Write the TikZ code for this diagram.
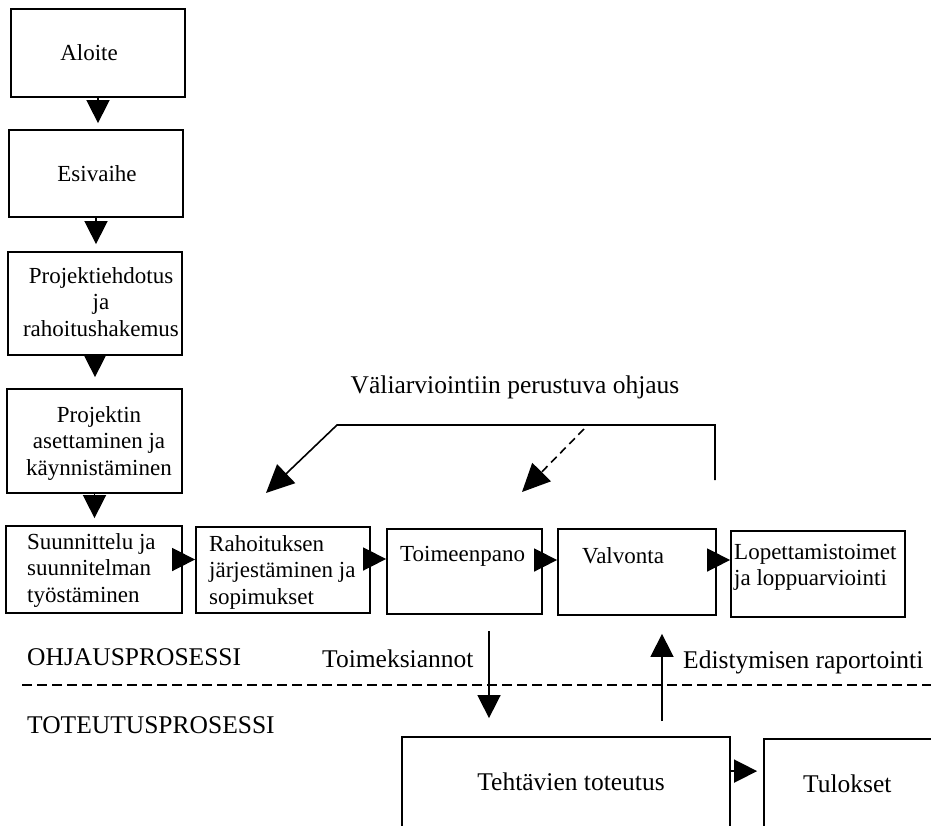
\documentclass[tikz,border=0pt]{standalone}
\usepackage{fontspec}
\setmainfont{Liberation Serif}
\usetikzlibrary{arrows.meta}
\begin{document}
\begin{tikzpicture}[x=1pt,y=-1pt,
  box/.style={draw, line width=1.8pt, inner sep=0pt},
  bt/.style={font=\fontsize{23}{26.5}\selectfont, inner sep=0pt},
  lt/.style={font=\fontsize{25.5}{30}\selectfont, inner sep=0pt},
  arr/.style={line width=1.6pt, -{Triangle[length=23pt,width=23pt]}},
  bigarr/.style={line width=1.6pt, -{Triangle[length=28pt,width=26pt]}}]
\useasboundingbox (0,0) rectangle (931,825);
\clip (0,0) rectangle (931,825);
% boxes
\node[box, minimum width=174pt, minimum height=88pt] (aloite) at (98,53) {};
\node[box, minimum width=174pt, minimum height=87pt] (esi) at (96,173.5) {};
\node[box, minimum width=174pt, minimum height=103pt] (ehd) at (95,303.5) {};
\node[box, minimum width=175pt, minimum height=104pt] (aset) at (94.5,441) {};
\node[box, minimum width=176pt, minimum height=87pt] (suun) at (94,569.5) {};
\node[box, minimum width=174pt, minimum height=86pt] (rah) at (283,570) {};
\node[box, minimum width=155pt, minimum height=85pt] (toim) at (464.5,571.5) {};
\node[box, minimum width=158pt, minimum height=86pt] (valv) at (637,572) {};
\node[box, minimum width=174pt, minimum height=86pt] (lop) at (818,574) {};
\node[box, minimum width=328pt, minimum height=100pt] (teht) at (566,787) {};
\node[box, minimum width=216pt, minimum height=122pt] (tul) at (872,800) {};
% box texts
\node[bt] (taloite) at (89,53) {Aloite};
\node[bt] (tesi) at (97,174) {Esivaihe};
\node[bt, align=center] (tehd) at (101,302) {Projektiehdotus\\ja\\rahoitushakemus};
\node[bt, align=center] (taset) at (99,443) {Projektin\\asettaminen ja\\käynnistäminen};
\node[bt, align=left, anchor=west] (tsuun) at (27,570) {Suunnittelu ja\\suunnitelman\\työstäminen};
\node[bt, align=left, anchor=west] (trah) at (209,572) {Rahoituksen\\järjestäminen ja\\sopimukset};
\node[bt, anchor=west] (ttoim) at (400,556) {Toimeenpano};
\node[bt, anchor=west] (tvalv) at (582,556) {Valvonta};
\node[bt, align=left, anchor=west] (tlop) at (734,567.5) {Lopettamistoimet\\ja loppuarviointi};
\node[lt, anchor=base] (tteht) at (571,790) {Tehtävien toteutus};
\node[lt, anchor=base west] (ttul) at (803,792) {Tulokset};
% labels
\node[lt, anchor=base] (head) at (515,393) {Väliarviointiin perustuva ohjaus};
\node[lt, anchor=base west] (ohj) at (27,665) {OHJAUSPROSESSI};
\node[lt, anchor=base west] (tot) at (27,733) {TOTEUTUSPROSESSI};
\node[lt, anchor=base west] (toimek) at (322,667) {Toimeksiannot};
\node[lt, anchor=base west] (edist) at (683,668) {Edistymisen raportointi};
% vertical chain
\draw[arr] (aloite.south) -- ([yshift=6pt]aloite.south |- esi.north);
\draw[arr] (esi.south) -- ([yshift=7pt]esi.south |- ehd.north);
\draw[arr] (ehd.south) -- ([yshift=11pt]ehd.south |- aset.north);
\draw[arr] (aset.south) -- ([yshift=7pt]aset.south |- suun.north);
% horizontal chain
\draw[arr] ([xshift=-8pt,yshift=10pt]suun.east) -- ([yshift=10pt]suun.east -| rah.west);
\draw[arr] ([xshift=-6pt,yshift=11pt]rah.east) -- ([yshift=11pt]rah.east -| toim.west);
\draw[arr] ([xshift=-7pt,yshift=11.5pt]toim.east) -- ([yshift=11.5pt]toim.east -| valv.west);
\draw[arr] ([xshift=-9pt,yshift=12pt]valv.east) -- ([yshift=12pt]valv.east -| lop.west);
\draw[arr] ([yshift=1pt]teht.east |- tteht.north) -- ([xshift=-6pt,yshift=1pt]tteht.north -| tul.west);
% control feedback
\coordinate (c1) at (715,480);
\coordinate (c2) at (715,425);
\coordinate (c3) at (337,425);
\coordinate (c4) at (266,493);
\coordinate (d1) at (584,429);
\coordinate (d2) at (522,492);
\draw[bigarr] (c1) -- (c2) -- (c3) -- (c4);
\draw[bigarr, dash pattern=on 8pt off 5pt] (d1) -- (d2);
% process boundary
\coordinate (l1) at (22,685);
\coordinate (l2) at (931,685);
\draw[line width=2.2pt, dash pattern=on 10pt off 5pt] (l1) -- (l2);
% orders and reporting
\coordinate (s1) at (489,631);
\draw[arr] (s1) -- ([yshift=18pt]s1 |- teht.north);
\coordinate (u1) at (662,721);
\draw[arr] (u1) -- ([yshift=-18pt]u1 |- valv.south);
\end{tikzpicture}
\end{document}
